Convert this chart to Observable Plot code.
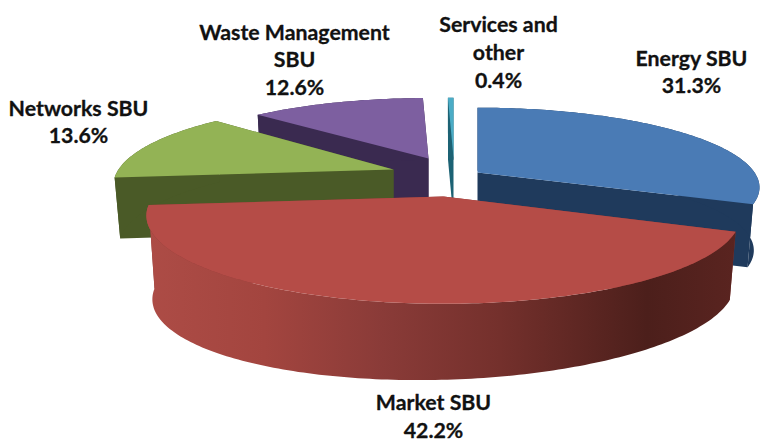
<!DOCTYPE html>
<html><head><meta charset="utf-8">
<script src="https://cdn.jsdelivr.net/npm/d3@7"></script>
<script src="https://cdn.jsdelivr.net/npm/@observablehq/plot@0.6"></script>
<style>html,body{margin:0;padding:0;background:#fff}svg{display:block}</style>
</head><body><div id="chart"></div>
<script>
// data
const labels = ["Energy SBU", "Market SBU", "Networks SBU", "Waste Management\nSBU", "Services and\nother"];
const shares = [31.3, 42.2, 13.6, 12.6, 0.4];
// styles
const topColors  = ["#4a7bb5", "#b54c47", "#93b355", "#7d5fa0", "#4bacc6"];
const wallColors = ["#1f3a5c", "url(#marketWall)", "#4a5a27", "#3a2a50", "#1c6274"];
// layout of each exploded slice: apex, radii, perspective, wall height, wall shear, label offset
const layout = [
  {ax: 477, ay: 172, rx: 277, ry: 77, k: .187, h: 63, shear: 0,    ldx: 214,  ldy: -102},
  {ax: 443, ay: 196, rx: 290, ry: 84, k: .217, h: 76, shear: .026, ldx: -10,  ldy: 218.5},
  {ax: 393, ay: 169, rx: 275, ry: 80, k: .19,  h: 61, shear: 0,    ldx: -315, ldy: -49},
  {ax: 428, ay: 158, rx: 265, ry: 72, k: .19,  h: 62, shear: 0,    ldx: -134, ldy: -100},
  {ax: 453, ay: 157, rx: 265, ry: 71, k: .19,  h: 62, shear: 0,    ldx: 45,   ldy: -106.5}
];
const shrink = .98;

const total = d3.sum(shares);
let acc = 0;
const slices = shares.map((v, i) => {
  const a0 = acc / total * 2 * Math.PI; acc += v;
  const a1 = acc / total * 2 * Math.PI;
  return {i, a0, a1, ...layout[i]};
});
function topPoint(s, a) {
  const u = Math.sin(a), v = -Math.cos(a), p = 1 / (1 - s.k * v);
  return {x: s.ax + s.rx * u * p, y: s.ay + s.ry * v * p};
}
function drop(s, p) {
  return {x: s.ax + (p.x - s.ax) * shrink, y: p.y + s.h - s.shear * (p.x - s.ax)};
}
function arc(s) {
  const n = Math.max(4, Math.ceil((s.a1 - s.a0) * 60));
  return d3.range(n + 1).map(j => topPoint(s, s.a0 + (s.a1 - s.a0) * j / n));
}
const apex = s => ({x: s.ax, y: s.ay});
const topFace = s => [apex(s), ...arc(s)];
const wallFace = s => { const a = arc(s); return [...a, ...a.map(p => drop(s, p)).reverse()]; };
const radial = (s, a) => { const o = topPoint(s, a), c = apex(s); return [c, o, drop(s, o), drop(s, c)]; };
const poly = (pts, fill) => Plot.line(pts, {x: "x", y: "y", fill, stroke: "none", curve: "linear"});

const gradient = () => {
  const ns = "http://www.w3.org/2000/svg";
  const defs = document.createElementNS(ns, "defs");
  const g = document.createElementNS(ns, "linearGradient");
  g.setAttribute("id", "marketWall");
  [[0, "#ad4c46"], [.2, "#a3453f"], [.4, "#8a3b38"], [.6, "#74302c"], [.85, "#4c1f1b"], [1, "#5a2420"]].forEach(([o, c]) => {
    const st = document.createElementNS(ns, "stop");
    st.setAttribute("offset", o); st.setAttribute("stop-color", c);
    g.appendChild(st);
  });
  defs.appendChild(g);
  return defs;
};

const order = [4, 3, 0, 2, 1];
const marks = [gradient];
for (const i of order) {
  const s = slices[i];
  const flat = wallColors[i].startsWith("url") ? "#8a3b38" : wallColors[i];
  marks.push(poly(radial(s, s.a1), flat));
  marks.push(poly(radial(s, s.a0), flat));
  marks.push(poly(wallFace(s), wallColors[i]));
  marks.push(poly(topFace(s), topColors[i]));
}
const labelRows = slices.map(s => ({
  x: s.ax + s.ldx, y: s.ay + s.ldy,
  text: `${labels[s.i]}\n${shares[s.i].toFixed(1)}%`
}));
marks.push(Plot.text(labelRows, {
  x: "x", y: "y", text: "text", lineAnchor: "middle", textAnchor: "middle",
  lineHeight: 1.3, fontSize: 21.3, fontWeight: 700, fontFamily: "Lato", fill: "#111",
  stroke: "#111", strokeWidth: 0.3
}));

const chart = Plot.plot({
  width: 760, height: 441, margin: 0,
  x: {domain: [0, 760], range: [0, 760], axis: null},
  y: {domain: [0, 441], range: [0, 441], axis: null},
  style: {background: "#fff"},
  marks
});
document.getElementById("chart").appendChild(chart);
</script></body></html>
